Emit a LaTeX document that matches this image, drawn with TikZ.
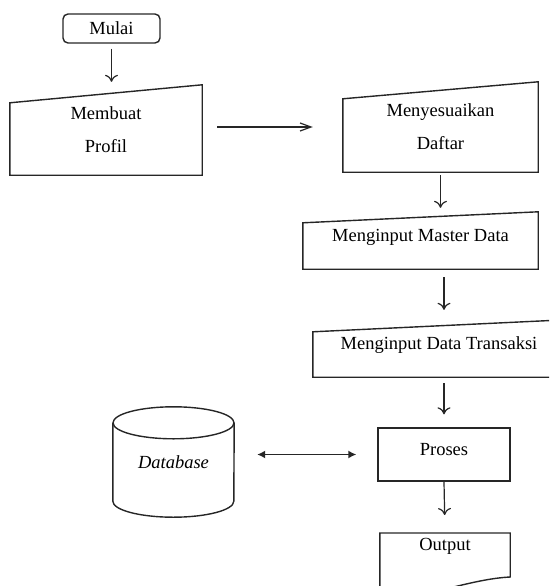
\documentclass[tikz,border=0pt]{standalone}
\usepackage{fontspec}
\setmainfont{Liberation Serif}
\usetikzlibrary{calc, shapes, arrows.meta}

\begin{document}
\begin{tikzpicture}[x=1pt,y=-1pt]
\tikzstyle{base}=[inner sep=0pt, font=\fontsize{18.5}{22}\selectfont, align=center]
\tikzstyle{raised}=[base, text height=13pt, text depth=12pt]
\tikzstyle{terminal}=[base, draw=black!85, line width=1.4pt, rounded corners=5pt]
\tikzstyle{proc}=[raised, draw=black!85, line width=1.4pt]
\tikzstyle{outline}=[draw=black!85, line width=1.4pt]
\tikzstyle{flow}=[draw=black!85, line width=1.2pt, -{To[length=7pt,width=13pt]}]
\clip (0,0) rectangle (549,586);
\node[terminal, minimum width=97pt, minimum height=29pt] (P_0) at (111.5,28.5) {Mulai};
\node[base, minimum width=192pt, minimum height=90pt] (P_1) at (106,130) {Membuat\\[11pt]Profil};
\node[base, minimum width=195pt, minimum height=90pt] (P_2) at (440.5,127) {Menyesuaikan\\[11pt]Daftar};
\node[raised, minimum width=235pt, minimum height=57pt] (P_3) at (420.5,240.5) {Menginput Master Data};
\node[raised, minimum width=252pt, minimum height=57pt] (P_4) at (439,348.5) {Menginput Data Transaksi};
\node[proc, minimum width=132pt, minimum height=53pt] (P_5) at (444,454.5) {Proses};
\node[base, anchor=north, minimum width=130pt, inner ysep=5pt] (P_6) at (445,533) {Output};
\node[base, font=\fontsize{18.5}{22}\selectfont\itshape, minimum width=121pt, minimum height=110pt] (P_7) at (173.5,462) {Database};
\foreach \n/\d in {P_1/18, P_2/17, P_3/11, P_4/12}
  \draw[outline] (\n.south west) -- (\n.south east) -- (\n.north east) -- ([yshift=-\d pt]\n.north west) -- cycle;
\draw[outline] ([yshift=-70pt]P_6.north west) -- (P_6.north west) -- (P_6.north east) -- ++(0,44) .. controls +(-20,1) and +(25,-6) .. ++(-65,12) .. controls +(-25,6) and +(20,-2) .. ++(-65,14) -- cycle;
\draw[outline] ([yshift=-16pt]P_7.north) ellipse [x radius=60.5pt, y radius=16pt];
\draw[outline] ([yshift=-16pt]P_7.north west) -- ([yshift=16pt]P_7.south west) arc[start angle=180, end angle=360, x radius=60.5pt, y radius=16pt] -- ([yshift=-16pt]P_7.north east);
\draw[flow, shorten <=5pt, shorten >=3pt] (P_0.south) -- (P_0.south |- P_1.north);
\draw[draw=black!85, line width=1.2pt, -{Straight Barb[length=11pt,width=8pt]}, shorten <=15pt, shorten >=30pt] (P_1.east |- P_2.west) -- (P_2.west);
\draw[flow, shorten <=3pt, shorten >=4pt] (P_2.south) -- (P_2.south |- P_3.north);
\draw[flow, shorten <=8pt, shorten >=10pt] (P_3.south -| P_5.north) -- (P_5.north |- P_4.north);
\draw[flow, shorten <=6pt, shorten >=13pt] (P_4.south -| P_5.north) -- (P_5.north);
\draw[flow, shorten >=18pt] (P_5.south) -- (P_6.north);
\draw[draw=black!85, line width=1.4pt, {Latex[length=8pt,width=8pt]}-{Latex[length=8pt,width=8pt]}, shorten <=23pt, shorten >=21pt] (P_7.east |- P_5.west) -- (P_5.west);
\end{tikzpicture}
\end{document}
